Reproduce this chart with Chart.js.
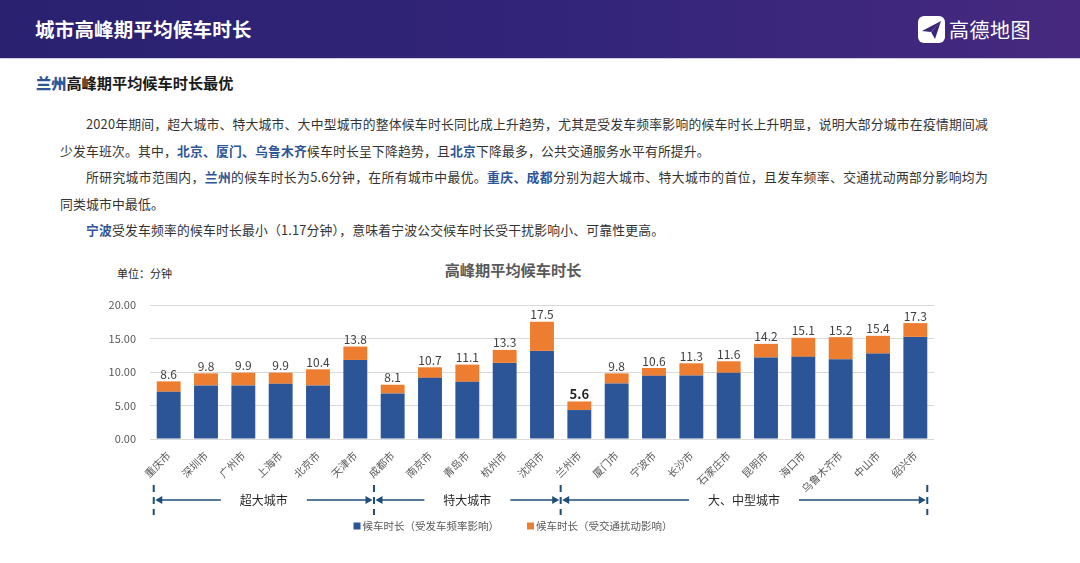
<!DOCTYPE html>
<html lang="zh">
<head>
<meta charset="utf-8">
<script src="https://cdn.jsdelivr.net/npm/chart.js@4.4.1/dist/chart.umd.min.js"></script>
<style>
  html, body { margin:0; padding:0; background:#fff; }
  body { width:1080px; height:563px; position:relative; overflow:hidden;
         font-family:"Noto Sans CJK SC","Noto Sans",sans-serif; color:#333; }
  .head { position:absolute; left:0; top:0; width:1080px; height:58px;
          background:linear-gradient(90deg,#2a2170 0%,#33257a 55%,#46297f 100%);
          border-bottom:1px solid #cfcfe0; }
  .head h1 { position:absolute; left:35px; top:14px; margin:0; font-size:19.5px; line-height:30px;
             font-weight:700; color:#fff; letter-spacing:0.2px; }
  .logo { position:absolute; left:918px; top:15px; height:28px; display:flex; align-items:center; }
  .logo span { color:#fff; font-size:20px; margin-left:4px; letter-spacing:0.5px; }
  .sub { position:absolute; left:36px; top:71px; font-size:15.2px; font-weight:700; color:#1a1a1a; }
  .sub b, .txt b { color:#2f5597; }
  .txt { position:absolute; left:60px; top:111px; width:928px; font-size:12.8px; line-height:26.6px;
         color:#333; letter-spacing:0.2px; }
  .txt .l { white-space:nowrap; }
  .txt .i { text-indent:26px; }
  .txt .j { text-align:justify; text-align-last:justify; white-space:normal; }
  #wrap { position:absolute; left:0; top:250px; }
  .ctitle { position:absolute; left:0; width:1026px; top:258px; text-align:center; font-size:15.2px;
            font-weight:700; color:#595959; }
  .unit { position:absolute; left:117px; top:265px; font-size:11px; color:#262626; }
</style>
</head>
<body>
<div class="head">
  <h1>城市高峰期平均候车时长</h1>
  <div class="logo">
    <svg width="27" height="27" viewBox="0 0 27 27">
      <rect x="0" y="0" width="27" height="27" rx="6" fill="#fff"/>
      <path d="M4 15 L23 5 L17 23 L13 16 Z" fill="#3a2678"/>
      <path d="M13 16 L23 5 L11 19 Z" fill="#fff" opacity="0.6"/>
    </svg>
    <span>高德地图</span>
  </div>
</div>
<div class="sub"><b>兰州</b>高峰期平均候车时长最优</div>
<div class="txt">
  <div class="l i j">2020年期间，超大城市、特大城市、大中型城市的整体候车时长同比成上升趋势，尤其是受发车频率影响的候车时长上升明显，说明大部分城市在疫情期间减</div>
  <div class="l">少发车班次。其中，<b>北京、厦门、乌鲁木齐</b>候车时长呈下降趋势，且<b>北京</b>下降最多，公共交通服务水平有所提升。</div>
  <div class="l i j">所研究城市范围内，<b>兰州</b>的候车时长为5.6分钟，在所有城市中最优。<b>重庆、成都</b>分别为超大城市、特大城市的首位，且发车频率、交通扰动两部分影响均为</div>
  <div class="l">同类城市中最低。</div>
  <div class="l i"><b>宁波</b>受发车频率的候车时长最小（1.17分钟），意味着宁波公交候车时长受干扰影响小、可靠性更高。</div>
</div>
<div class="ctitle">高峰期平均候车时长</div>
<div class="unit">单位：分钟</div>
<div id="wrap"><canvas id="c" width="1080" height="313"></canvas></div>

<script>
// cities along the x axis
const cities = ['重庆市','深圳市','广州市','上海市','北京市','天津市','成都市','南京市','青岛市','杭州市','沈阳市',
  '兰州市','厦门市','宁波市','长沙市','石家庄市','昆明市','海口市','乌鲁木齐市','中山市','绍兴市'];
// minutes, waiting time caused by departure frequency (blue)
const freqPart = [7.05, 8.0, 8.0, 8.24, 8.0, 11.8, 6.8, 9.13, 8.54, 11.36, 13.15,
  4.32, 8.29, 9.43, 9.48, 9.88, 12.16, 12.26, 11.91, 12.75, 15.24];
// minutes, waiting time caused by traffic disturbance (orange)
const trafficPart = [1.55, 1.8, 1.9, 1.66, 2.4, 2.0, 1.3, 1.57, 2.56, 1.94, 4.35,
  1.28, 1.51, 1.17, 1.82, 1.72, 2.04, 2.84, 3.29, 2.65, 2.06];
// total labels printed above bars
const totals = ['8.6','9.8','9.9','9.9','10.4','13.8','8.1','10.7','11.1','13.3','17.5',
  '5.6','9.8','10.6','11.3','11.6','14.2','15.1','15.2','15.4','17.3'];
const highlightIdx = 11; // 兰州
const yTicks = [0, 5, 10, 15, 20];
const groups = [
  { name:'超大城市', from:0, to:5 },
  { name:'特大城市', from:6, to:10 },
  { name:'大、中型城市', from:11, to:20 }
];

const FONT = '"Noto Sans CJK SC","Noto Sans",sans-serif';
const BLUE = '#2b5597', ORANGE = '#ed7d31', DARK = '#1f4e79';

const totalLabels = {
  id:'totalLabels',
  afterDatasetsDraw(chart){
    const ctx = chart.ctx;
    const meta = chart.getDatasetMeta(1);
    ctx.save();
    ctx.textAlign = 'center';
    ctx.textBaseline = 'bottom';
    meta.data.forEach((bar, i) => {
      const hi = i === highlightIdx;
      ctx.font = (hi ? '700 13px ' : '12px ') + FONT;
      ctx.fillStyle = hi ? '#262626' : '#404040';
      ctx.fillText(totals[i], bar.x, bar.y - 1);
    });
    ctx.restore();
  }
};

const groupBrackets = {
  id:'groupBrackets',
  afterDraw(chart){
    const ctx = chart.ctx, xs = chart.scales.x;
    const step = xs.getPixelForValue(1) - xs.getPixelForValue(0);
    const edge = (i, side) => {
      if (side < 0) return i === 0 ? xs.getPixelForValue(0) - step * 0.4
                                   : (xs.getPixelForValue(i - 1) + xs.getPixelForValue(i)) / 2;
      return i === cities.length - 1 ? xs.getPixelForValue(i) + step * 0.32
                                     : (xs.getPixelForValue(i) + xs.getPixelForValue(i + 1)) / 2;
    };
    const ly = 250;
    ctx.save();
    ctx.strokeStyle = DARK; ctx.fillStyle = DARK;
    const bounds = new Set();
    groups.forEach(g => { bounds.add(edge(g.from, -1)); bounds.add(edge(g.to, 1)); });
    // dashed separators
    ctx.lineWidth = 2;
    ctx.setLineDash([7, 5]);
    bounds.forEach(x => { ctx.beginPath(); ctx.moveTo(x, ly - 15); ctx.lineTo(x, ly + 15); ctx.stroke(); });
    ctx.setLineDash([]);
    ctx.font = '12px ' + FONT;
    ctx.textAlign = 'center'; ctx.textBaseline = 'middle';
    groups.forEach(g => {
      const a = edge(g.from, -1) + 1.5, b = edge(g.to, 1) - 1.5;
      const mid = (a + b) / 2;
      const half = ctx.measureText(g.name).width / 2 + 19;
      ctx.lineWidth = 1.6;
      ctx.beginPath(); ctx.moveTo(a + 5, ly); ctx.lineTo(mid - half, ly); ctx.stroke();
      ctx.beginPath(); ctx.moveTo(mid + half, ly); ctx.lineTo(b - 5, ly); ctx.stroke();
      ctx.beginPath(); ctx.moveTo(a, ly); ctx.lineTo(a + 7, ly - 4); ctx.lineTo(a + 7, ly + 4); ctx.closePath(); ctx.fill();
      ctx.beginPath(); ctx.moveTo(b, ly); ctx.lineTo(b - 7, ly - 4); ctx.lineTo(b - 7, ly + 4); ctx.closePath(); ctx.fill();
      ctx.fillStyle = '#262626';
      ctx.fillText(g.name, mid, ly);
      ctx.fillStyle = DARK;
    });
    ctx.restore();
  }
};

const bottomLegend = {
  id:'bottomLegend',
  afterDraw(chart){
    const ctx = chart.ctx, ds = chart.data.datasets;
    const y = 276, box = 7, gap = 2, spacing = 28, cx = 513;
    ctx.save();
    ctx.font = '10.5px ' + FONT;
    ctx.textBaseline = 'middle';
    const widths = ds.map(d => box + gap + ctx.measureText(d.label).width);
    let x = cx - (widths.reduce((s, w) => s + w, 0) + spacing * (ds.length - 1)) / 2;
    ds.forEach((d, i) => {
      ctx.fillStyle = d.backgroundColor;
      ctx.fillRect(x, y - box / 2, box, box);
      ctx.fillStyle = '#595959';
      ctx.fillText(d.label, x + box + gap, y);
      x += widths[i] + spacing;
    });
    ctx.restore();
  }
};

new Chart(document.getElementById('c').getContext('2d'), {
  type:'bar',
  data:{
    labels: cities,
    datasets:[
      { label:'候车时长（受发车频率影响）', data:freqPart, backgroundColor:BLUE,
        barPercentage:0.64, categoryPercentage:1 },
      { label:'候车时长（受交通扰动影响）', data:trafficPart, backgroundColor:ORANGE,
        barPercentage:0.64, categoryPercentage:1 }
    ]
  },
  options:{
    responsive:false,
    animation:false,
    layout:{ padding:{ top:55, right:146, left:0, bottom:0 } },
    scales:{
      x:{
        stacked:true,
        grid:{ display:false },
        border:{ display:false },
        ticks:{ color:'#595959', minRotation:45, maxRotation:45, padding:2, autoSkip:false,
                font:{ family:FONT, size:10.5 } },
        afterFit(s){ s.height = 124; }
      },
      y:{
        stacked:true,
        min:0, max:20,
        afterBuildTicks(s){ s.ticks = yTicks.map(v => ({ value:v })); },
        grid:{ color:'#d9d9d9', drawTicks:false },
        border:{ display:false },
        ticks:{ color:'#595959', padding:14, font:{ family:FONT, size:11 },
                callback:v => Number(v).toFixed(2) },
        afterFit(s){ s.width = 150; }
      }
    },
    plugins:{ legend:{ display:false }, tooltip:{ enabled:false } }
  },
  plugins:[totalLabels, groupBrackets, bottomLegend]
});
</script>
</body>
</html>
